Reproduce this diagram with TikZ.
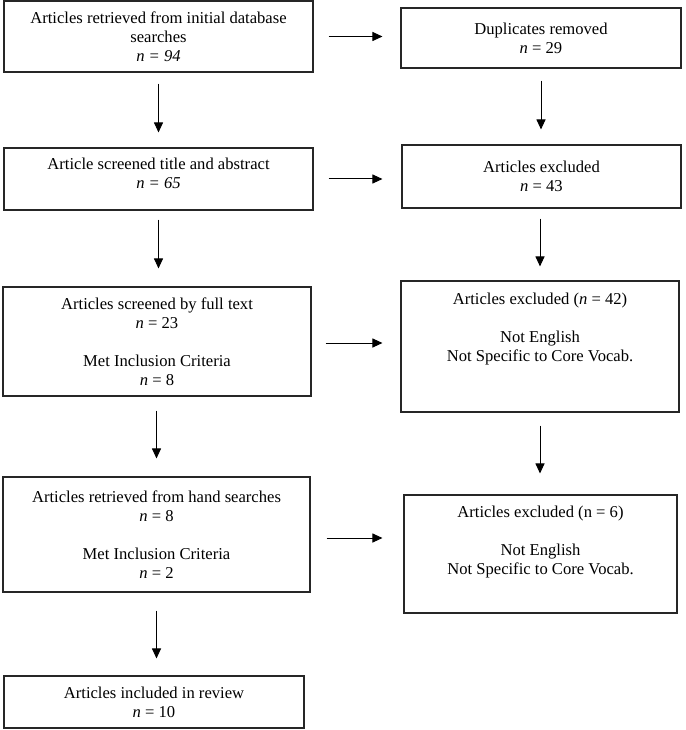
\documentclass[tikz,border=0pt]{standalone}
\usepackage{fontspec}
\setmainfont{Liberation Serif}
\usetikzlibrary{arrows.meta}
\begin{document}
\begin{tikzpicture}[x=1pt,y=1pt,
  box/.style={draw=black!85, line width=1.1pt, rectangle, align=center, inner sep=0pt,
    font=\fontsize{16.6}{19}\selectfont},
  arr/.style={draw=black, line width=1pt, -{Triangle[length=10pt,width=9pt]}}]
\useasboundingbox (0,0) rectangle (685,-730);
% left column
\node[box, minimum width=309pt, minimum height=71pt] (L1) at (158.5,-36.5)
  {Articles retrieved from initial database\\searches\\\textit{n = 94}};
\node[box, minimum width=309pt, minimum height=62pt] (L2) at (158.5,-179)
  {Article screened title and abstract\\\textit{n = 65}\\[-7pt]~};
\node[box, minimum width=308pt, minimum height=109pt] (L3) at (157,-341.5)
  {Articles screened by full text\\\textit{n} = 23\\[19pt]Met Inclusion Criteria\\\textit{n} = 8};
\node[box, minimum width=307pt, minimum height=115pt] (L4) at (156.5,-534.5)
  {Articles retrieved from hand searches\\\textit{n} = 8\\[19pt]Met Inclusion Criteria\\\textit{n} = 2};
\node[box, minimum width=300pt, minimum height=52pt] (L5) at (154,-702)
  {Articles included in review\\\textit{n} = 10};
% right column
\node[box, minimum width=280pt, minimum height=60pt] (R1) at (541,-38)
  {Duplicates removed\\\textit{n} = 29};
\node[box, minimum width=279pt, minimum height=63pt] (R2) at (541.5,-176.5)
  {Articles excluded\\\textit{n} = 43};
\node[box, minimum width=278pt, minimum height=131pt] (R3) at (540,-346.5)
  {Articles excluded (\textit{n} = 42)\\[19pt]Not English\\Not Specific to Core Vocab.\\[20pt]~};
\node[box, minimum width=273pt, minimum height=118pt] (R4) at (540.5,-554)
  {Articles excluded (n = 6)\\[19pt]Not English\\Not Specific to Core Vocab.\\[8pt]~};
% vertical arrows left
\draw[arr, shorten <=11pt, shorten >=15pt] (L1.south) -- (L1.south |- L2.north);
\draw[arr, shorten <=9pt, shorten >=18pt] (L2.south) -- (L2.south |- L3.north);
\draw[arr, shorten <=14pt, shorten >=18pt] (L4.north |- L3.south) -- (L4.north);
\draw[arr, shorten <=18pt, shorten >=17pt] (L4.south) -- (L4.south |- L5.north);
% vertical arrows right
\draw[arr, shorten <=12pt, shorten >=15pt] (R1.south) -- (R1.south |- R2.north);
\draw[arr, shorten <=10pt, shorten >=14pt] (R3.north |- R2.south) -- (R3.north);
\draw[arr, shorten <=13pt, shorten >=21pt] (R3.south) -- (R3.south |- R4.north);
% horizontal arrows
\coordinate (h3) at ([yshift=-1.5pt]L3.east);
\coordinate (h4) at ([yshift=-3.5pt]L4.east);
\draw[arr, shorten <=15pt, shorten >=18pt] (L1.east) -- (R1.west |- L1.east);
\draw[arr, shorten <=15pt, shorten >=19pt] (L2.east) -- (R2.west |- L2.east);
\draw[arr, shorten <=14pt, shorten >=18pt] (h3) -- (R3.west |- h3);
\draw[arr, shorten <=16pt, shorten >=21pt] (h4) -- (R4.west |- h4);
\end{tikzpicture}
\end{document}
